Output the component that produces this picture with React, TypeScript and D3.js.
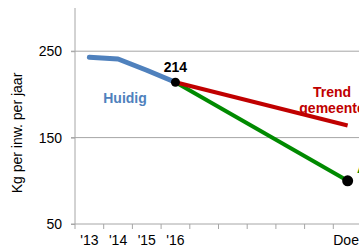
import React, { useRef, useEffect } from 'react'
import * as d3 from 'd3'

const categories = ["'13", "'14", "'15", "'16", "'17", "'18", "'19", "'20", "'21", 'Doel']
const tickLabels = ["'13", "'14", "'15", "'16", '', '', '', '', '', 'Doel']
const huidig = [243, 241, 228, 214]
const trend = [
  { cat: "'16", value: 214 },
  { cat: 'Doel', value: 164 },
]
const doel = [
  { cat: "'16", value: 214 },
  { cat: 'Doel', value: 100 },
]
const yTicks = [50, 150, 250]

export default function App() {
  const svgRef = useRef<SVGSVGElement | null>(null)

  useEffect(() => {
    if (!svgRef.current) return
    const svg = d3.select(svgRef.current)
    svg.selectAll('*').remove()

    const font = 'Liberation Sans, Arial, sans-serif'
    const left = 75
    const x = d3.scaleBand<string>().domain(categories).range([left, left + 287]).padding(0)
    const y = d3.scaleLinear().domain([50, 300]).range([224, 8])
    const cx = (c: string) => (x(c) as number) + x.bandwidth() / 2

    // gridlines
    svg.append('g')
      .selectAll('line')
      .data(yTicks.filter(d => d !== 50))
      .join('line')
      .attr('x1', left - 4).attr('x2', 359)
      .attr('y1', d => y(d)).attr('y2', d => y(d))
      .attr('stroke', '#a6a6a6').attr('stroke-width', 1)

    // y axis
    const yAxis = svg.append('g')
      .attr('transform', `translate(${left},0)`)
      .call(d3.axisLeft(y).tickValues(yTicks).tickSize(4).tickPadding(9).tickFormat(d3.format('d')))
    yAxis.select('.domain').attr('stroke', '#a6a6a6').attr('d', `M0,${y(300)}V${y(50)}`)
    yAxis.selectAll('.tick line').attr('stroke', '#a6a6a6')
    yAxis.selectAll('text').attr('font-family', font).attr('font-size', 14).attr('fill', '#000')

    // x axis
    const xAxis = svg.append('g').attr('transform', `translate(0,${y(50)})`)
    xAxis.append('line').attr('x1', left - 4).attr('x2', 359).attr('stroke', '#a6a6a6')
    xAxis.selectAll('line.tk')
      .data(categories)
      .join('line')
      .attr('class', 'tk')
      .attr('x1', d => x(d) as number).attr('x2', d => x(d) as number)
      .attr('y1', 0).attr('y2', 5)
      .attr('stroke', '#a6a6a6')
    xAxis.selectAll('text')
      .data(categories)
      .join('text')
      .attr('x', d => cx(d))
      .attr('y', 21)
      .attr('text-anchor', 'middle')
      .attr('font-family', font).attr('font-size', 14)
      .text((d, i) => tickLabels[i])

    // y label
    svg.append('text')
      .attr('transform', `translate(22,${133}) rotate(-90)`)
      .attr('text-anchor', 'middle')
      .attr('font-family', font).attr('font-size', 14)
      .text('Kg per inw. per jaar')

    const line = d3.line<{ cat: string; value: number }>().x(d => cx(d.cat)).y(d => y(d.value))

    svg.append('path')
      .datum(doel)
      .attr('d', line)
      .attr('fill', 'none').attr('stroke', '#008a00').attr('stroke-width', 4)

    svg.append('path')
      .datum(trend)
      .attr('d', line)
      .attr('fill', 'none').attr('stroke', '#c00000').attr('stroke-width', 4)

    svg.append('path')
      .datum(huidig.map((v, i) => ({ cat: categories[i], value: v })))
      .attr('d', line)
      .attr('fill', 'none').attr('stroke', '#4f81bd').attr('stroke-width', 5)
      .attr('stroke-linecap', 'round').attr('stroke-linejoin', 'round')

    // markers
    svg.append('circle').attr('cx', cx("'16")).attr('cy', y(214)).attr('r', 4.5).attr('fill', '#000')
    svg.append('circle').attr('cx', cx('Doel')).attr('cy', y(100)).attr('r', 5.5).attr('fill', '#000')

    // labels
    svg.append('text')
      .attr('x', cx("'16")).attr('y', y(214) - 10)
      .attr('text-anchor', 'middle')
      .attr('font-family', font).attr('font-size', 14).attr('font-weight', 'bold')
      .text('214')

    svg.append('text')
      .attr('x', 125).attr('y', 103)
      .attr('text-anchor', 'middle')
      .attr('font-family', font).attr('font-size', 14).attr('font-weight', 'bold')
      .attr('fill', '#4f81bd')
      .text('Huidig')

    const tr = svg.append('text')
      .attr('text-anchor', 'middle')
      .attr('font-family', font).attr('font-size', 14).attr('font-weight', 'bold')
      .attr('fill', '#c00000')
    tr.append('tspan').attr('x', 332).attr('y', 97).text('Trend')
    tr.append('tspan').attr('x', 332).attr('y', 113).text('gemeente')

    svg.append('text')
      .attr('x', 357).attr('y', 173)
      .attr('font-family', font).attr('font-size', 14).attr('font-weight', 'bold')
      .attr('fill', '#008a00')
      .text('Ambitie')
  }, [])

  return (
    <svg ref={svgRef} width={359} height={251}
      style={{ position: 'absolute', left: 0, top: 0, background: '#fff' }} />
  )
}
